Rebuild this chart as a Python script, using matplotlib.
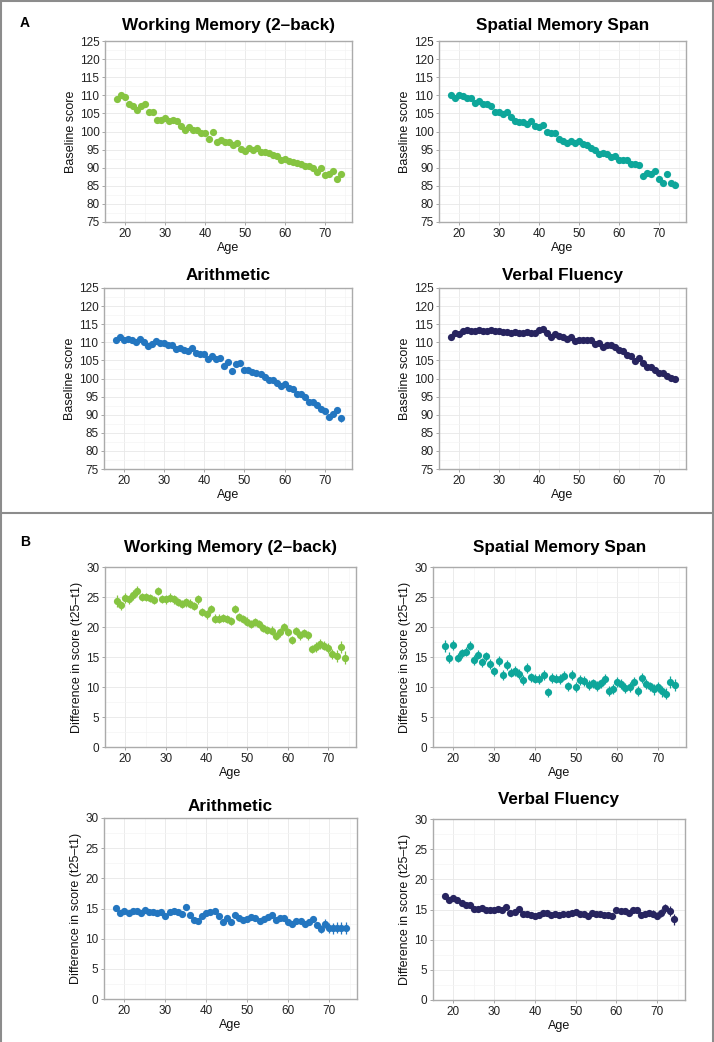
import matplotlib
matplotlib.use("Agg")
import matplotlib.pyplot as plt
from matplotlib.lines import Line2D

plt.rcParams['font.family'] = ['Liberation Sans', 'DejaVu Sans']

ages = list(range(18, 75))

# ---- Panel A: baseline scores ----
wm_base = [109.1, 110.0, 109.5, 107.5, 107.0, 106.0, 107.0, 107.5, 105.3, 105.5,
           103.3, 103.2, 103.7, 103.0, 103.2, 102.8, 101.5, 100.3, 101.3, 100.5,
           100.3, 99.5, 99.5, 97.8, 99.8, 97.0, 97.7, 97.0, 97.0, 96.2,
           96.8, 95.3, 94.7, 95.5, 95.0, 95.4, 94.2, 94.2, 94.0, 93.5,
           93.3, 92.2, 92.3, 91.8, 91.6, 91.3, 91.0, 90.5, 90.5, 90.0,
           88.7, 89.8, 88.0, 88.3, 89.0, 86.8, 88.2]
wm_base_err = [0.7, 0.6, 0.5, 0.5, 0.5, 0.5, 0.5, 0.5, 0.5, 0.5,
               0.5, 0.5, 0.5, 0.5, 0.5, 0.5, 0.5, 0.5, 0.5, 0.5,
               0.5, 0.5, 0.5, 0.5, 0.5, 0.5, 0.5, 0.5, 0.5, 0.5,
               0.5, 0.5, 0.5, 0.5, 0.5, 0.5, 0.5, 0.5, 0.5, 0.5,
               0.5, 0.5, 0.5, 0.5, 0.5, 0.5, 0.5, 0.5, 0.5, 0.6,
               0.6, 0.6, 0.7, 0.7, 0.7, 0.8, 0.9]

sp_base = [110.0, 109.3, 110.0, 109.7, 109.2, 109.3, 107.8, 108.5, 107.5, 107.5,
           107.0, 105.5, 105.4, 104.8, 105.3, 104.0, 103.0, 102.7, 102.5, 102.0,
           103.0, 101.5, 101.2, 101.8, 99.8, 99.7, 99.7, 97.8, 97.5, 96.8,
           97.5, 96.9, 97.3, 96.5, 96.2, 95.5, 95.0, 93.7, 94.0, 93.8,
           93.0, 93.2, 92.0, 92.0, 92.0, 91.0, 91.0, 90.8, 87.8, 88.5,
           88.3, 89.0, 87.0, 85.8, 88.2, 85.8, 85.3]
sp_base_err = [0.7, 0.6, 0.6, 0.6, 0.6, 0.6, 0.6, 0.6, 0.6, 0.6,
               0.6, 0.6, 0.6, 0.6, 0.6, 0.6, 0.6, 0.6, 0.6, 0.6,
               0.6, 0.6, 0.6, 0.6, 0.6, 0.6, 0.6, 0.6, 0.6, 0.6,
               0.6, 0.6, 0.6, 0.6, 0.6, 0.6, 0.6, 0.6, 0.6, 0.6,
               0.6, 0.6, 0.6, 0.6, 0.6, 0.6, 0.6, 0.6, 0.7, 0.7,
               0.7, 0.7, 0.8, 0.8, 0.8, 0.9, 0.9]

ar_base = [110.5, 111.6, 110.5, 110.8, 110.5, 110.0, 110.8, 110.0, 109.0, 109.5,
           110.3, 109.7, 109.7, 109.2, 109.3, 108.2, 108.4, 108.0, 107.5, 108.5,
           107.0, 106.7, 106.7, 105.3, 106.3, 105.5, 105.8, 103.5, 104.5, 102.2,
           104.0, 104.3, 102.3, 102.4, 101.7, 101.6, 101.3, 100.3, 99.5, 99.7,
           98.8, 97.9, 98.5, 97.3, 97.2, 95.8, 95.7, 95.0, 93.5, 93.5,
           92.7, 91.7, 91.0, 89.5, 90.3, 91.2, 89.0]
ar_base_err = [0.5, 0.5, 0.4, 0.4, 0.4, 0.4, 0.4, 0.4, 0.4, 0.4,
               0.4, 0.4, 0.4, 0.4, 0.4, 0.4, 0.4, 0.4, 0.4, 0.4,
               0.4, 0.4, 0.4, 0.4, 0.4, 0.4, 0.4, 0.4, 0.4, 0.4,
               0.4, 0.4, 0.4, 0.4, 0.4, 0.4, 0.4, 0.4, 0.4, 0.4,
               0.4, 0.4, 0.4, 0.4, 0.4, 0.4, 0.4, 0.4, 0.4, 0.4,
               0.5, 0.5, 0.5, 0.6, 0.6, 0.7, 0.9]

vf_base = [111.4, 112.7, 112.2, 113.0, 113.3, 113.1, 113.0, 113.5, 113.2, 113.0,
           113.4, 113.0, 113.1, 112.9, 112.8, 112.5, 112.8, 112.6, 112.5, 112.8,
           112.7, 112.6, 113.4, 113.6, 112.7, 111.4, 112.3, 111.8, 111.6, 111.0,
           111.5, 110.4, 110.7, 110.7, 110.6, 110.6, 109.6, 109.7, 108.6, 109.2,
           109.3, 108.8, 107.8, 107.5, 106.5, 106.3, 104.7, 105.8, 104.3, 103.1,
           103.3, 102.3, 101.6, 101.4, 100.8, 100.1, 99.9]
vf_base_err = [0.4, 0.4, 0.4, 0.4, 0.4, 0.4, 0.4, 0.4, 0.4, 0.4,
               0.4, 0.4, 0.4, 0.4, 0.4, 0.4, 0.4, 0.4, 0.4, 0.4,
               0.4, 0.4, 0.4, 0.4, 0.4, 0.4, 0.4, 0.4, 0.4, 0.4,
               0.4, 0.4, 0.4, 0.4, 0.4, 0.4, 0.4, 0.4, 0.4, 0.4,
               0.4, 0.4, 0.4, 0.4, 0.4, 0.4, 0.4, 0.4, 0.4, 0.5,
               0.5, 0.5, 0.5, 0.6, 0.6, 0.7, 0.8]

# ---- Panel B: difference in score (t25 - t1) ----
wm_diff = [24.4, 23.6, 24.8, 24.6, 25.3, 26.0, 25.0, 25.0, 24.8, 24.5,
           26.0, 24.7, 24.6, 24.9, 24.6, 24.2, 23.8, 24.1, 23.9, 23.5,
           24.6, 22.5, 22.1, 23.0, 21.4, 21.4, 21.5, 21.3, 21.0, 23.0,
           21.7, 21.3, 20.9, 20.5, 20.8, 20.5, 19.8, 19.5, 19.4, 18.5,
           19.1, 20.0, 19.2, 17.8, 19.3, 18.6, 19.0, 18.6, 16.3, 16.7,
           17.2, 16.9, 16.5, 15.5, 15.1, 16.6, 14.9]
wm_diff_err = [1.0, 0.8, 0.8, 0.8, 0.8, 0.8, 0.7, 0.7, 0.7, 0.7,
               0.7, 0.7, 0.7, 0.7, 0.7, 0.7, 0.7, 0.7, 0.7, 0.7,
               0.7, 0.7, 0.7, 0.7, 0.7, 0.7, 0.7, 0.7, 0.7, 0.7,
               0.7, 0.7, 0.7, 0.7, 0.7, 0.7, 0.7, 0.7, 0.7, 0.7,
               0.7, 0.7, 0.7, 0.7, 0.7, 0.7, 0.7, 0.7, 0.7, 0.8,
               0.8, 0.8, 0.9, 0.9, 1.0, 1.0, 1.1]

sp_diff = [16.8, 14.9, 17.0, 14.9, 15.6, 15.9, 16.9, 14.5, 15.4, 14.1,
           15.1, 13.8, 12.6, 14.3, 12.0, 13.7, 12.4, 12.7, 12.2, 11.2,
           13.2, 11.6, 11.4, 11.3, 12.0, 9.1, 11.5, 11.4, 11.3, 11.9,
           10.1, 12.0, 10.0, 11.2, 11.0, 10.3, 10.6, 10.2, 10.6, 11.3,
           9.3, 9.7, 10.8, 10.5, 9.8, 10.0, 10.9, 9.3, 11.5, 10.5,
           10.1, 9.6, 10.0, 9.3, 8.9, 10.8, 10.4]
sp_diff_err = [1.0, 0.9, 0.8, 0.8, 0.8, 0.8, 0.8, 0.8, 0.8, 0.8,
               0.8, 0.8, 0.8, 0.8, 0.8, 0.8, 0.8, 0.8, 0.8, 0.8,
               0.8, 0.8, 0.8, 0.8, 0.8, 0.8, 0.8, 0.8, 0.8, 0.8,
               0.8, 0.8, 0.8, 0.8, 0.8, 0.8, 0.8, 0.8, 0.8, 0.8,
               0.8, 0.8, 0.8, 0.8, 0.8, 0.8, 0.8, 0.8, 0.8, 0.8,
               0.8, 0.9, 0.9, 0.9, 0.9, 1.0, 1.0]

ar_diff = [15.1, 14.3, 14.6, 14.3, 14.6, 14.6, 14.2, 14.7, 14.5, 14.5,
           14.3, 14.4, 13.7, 14.5, 14.6, 14.4, 14.1, 15.2, 13.9, 13.1,
           13.0, 13.8, 14.3, 14.5, 14.6, 13.7, 12.8, 13.5, 12.8, 14.0,
           13.5, 13.1, 13.3, 13.6, 13.4, 13.0, 13.3, 13.6, 13.9, 13.1,
           13.4, 13.5, 12.8, 12.4, 13.0, 13.0, 12.4, 12.8, 13.2, 12.2,
           11.6, 12.5, 11.8, 11.7, 11.8, 11.7, 11.8]
ar_diff_err = [0.5, 0.4, 0.4, 0.4, 0.4, 0.4, 0.4, 0.4, 0.4, 0.4,
               0.4, 0.4, 0.4, 0.4, 0.4, 0.4, 0.4, 0.4, 0.4, 0.4,
               0.4, 0.4, 0.4, 0.4, 0.4, 0.4, 0.4, 0.4, 0.4, 0.4,
               0.4, 0.4, 0.4, 0.4, 0.4, 0.4, 0.4, 0.4, 0.4, 0.4,
               0.4, 0.4, 0.4, 0.4, 0.4, 0.4, 0.4, 0.4, 0.5, 0.5,
               0.6, 0.8, 0.8, 0.9, 0.9, 1.0, 1.0]

vf_diff = [17.2, 16.6, 16.9, 16.5, 16.1, 15.8, 15.7, 15.1, 15.1, 15.2,
           14.9, 14.9, 15.0, 15.1, 14.9, 15.4, 14.5, 14.6, 15.1, 14.2,
           14.2, 14.1, 13.9, 14.1, 14.4, 14.4, 14.1, 14.3, 14.1, 14.3,
           14.3, 14.4, 14.6, 14.3, 14.3, 13.9, 14.4, 14.3, 14.2, 14.1,
           14.1, 14.0, 14.9, 14.8, 14.7, 14.5, 15.0, 14.9, 14.1, 14.2,
           14.5, 14.3, 14.0, 14.4, 15.2, 14.7, 13.4]
vf_diff_err = [0.4, 0.4, 0.4, 0.4, 0.4, 0.4, 0.4, 0.4, 0.4, 0.4,
               0.4, 0.4, 0.4, 0.4, 0.4, 0.4, 0.4, 0.4, 0.4, 0.4,
               0.4, 0.4, 0.4, 0.4, 0.4, 0.4, 0.4, 0.4, 0.4, 0.4,
               0.4, 0.4, 0.4, 0.4, 0.4, 0.4, 0.4, 0.4, 0.4, 0.4,
               0.4, 0.4, 0.4, 0.4, 0.4, 0.4, 0.4, 0.4, 0.5, 0.5,
               0.5, 0.6, 0.6, 0.7, 0.7, 0.8, 0.9]

titles = ["Working Memory (2\u2013back)", "Spatial Memory Span", "Arithmetic", "Verbal Fluency"]
colors = ["#86C441", "#0DA69A", "#2376C0", "#27245F"]
x_ticks = [20, 30, 40, 50, 60, 70]
a_yticks = [75, 80, 85, 90, 95, 100, 105, 110, 115, 120, 125]
b_yticks = [0, 5, 10, 15, 20, 25, 30]

W, H = 714, 1042
fig = plt.figure(figsize=(W / 100, H / 100), dpi=100)
fig.patch.set_facecolor("white")


def add_ax(left, top, right, bottom):
    return fig.add_axes([left / W, 1 - bottom / H, (right - left) / W, (bottom - top) / H])


def style(ax, ylim, yticks, ylabel, title, tpad):
    ax.set_xlim(15.2, 76.8)
    ax.set_ylim(*ylim)
    ax.set_xticks(x_ticks)
    ax.set_yticks(yticks)
    ax.set_xticks([15, 25, 35, 45, 55, 65, 75], minor=True)
    step = yticks[1] - yticks[0]
    ax.set_yticks([v + step / 2 for v in yticks[:-1]], minor=True)
    ax.grid(True, which="major", color="#E8E8E8", lw=0.6)
    ax.grid(True, which="minor", color="#F4F4F4", lw=0.5)
    ax.set_axisbelow(True)
    for s in ax.spines.values():
        s.set_color("#ABABAB")
        s.set_linewidth(1.0)
    ax.tick_params(which="major", length=2.5, width=0.6, color="#999999",
                   labelsize=8.5, labelcolor="#222222", pad=1.5)
    ax.tick_params(which="minor", length=0)
    ax.set_xlabel("Age", fontsize=9, color="#111111", labelpad=1.5)
    ax.set_ylabel(ylabel, fontsize=9, color="#111111", labelpad=2)
    ax.set_title(title, fontsize=12.3, fontweight="bold", pad=tpad)


def draw(ax, vals, errs, color):
    ax.errorbar(ages, vals, yerr=errs, fmt="o", color=color, ms=5.2, mew=0,
                elinewidth=0.9, capsize=0, zorder=3)


# axes boxes (left, top, right, bottom in pixels)
posA = [(105, 41, 352, 222), (439, 41, 686, 222), (104, 288, 352, 469), (439, 288, 686, 469)]
posB = [(105, 567, 356, 747), (433, 567, 686, 747), (104, 818, 357, 999), (433, 819, 685, 1000)]

baseA = [(wm_base, wm_base_err), (sp_base, sp_base_err), (ar_base, ar_base_err), (vf_base, vf_base_err)]
diffB = [(wm_diff, wm_diff_err), (sp_diff, sp_diff_err), (ar_diff, ar_diff_err), (vf_diff, vf_diff_err)]
padsA = [8, 8, 6, 6]
padsB = [11, 11, 5, 11]

for i in range(4):
    ax = add_ax(*posA[i])
    draw(ax, baseA[i][0], baseA[i][1], colors[i])
    style(ax, (75, 125), a_yticks, "Baseline score", titles[i], padsA[i])

for i in range(4):
    ax = add_ax(*posB[i])
    draw(ax, diffB[i][0], diffB[i][1], colors[i])
    style(ax, (0, 30), b_yticks, "Difference in score (t25\u2013t1)", titles[i], padsB[i])

# panel letters
fig.text(20 / W, 1 - 23 / H, "A", fontsize=10, fontweight="bold", va="center", ha="left")
fig.text(20 / W, 1 - 542 / H, "B", fontsize=10, fontweight="bold", va="center", ha="left")

# borders
bc = "#8C8C8C"
fig.add_artist(Line2D([0.5 / W, 0.5 / W], [0, 1], color=bc, lw=1.5, transform=fig.transFigure))
fig.add_artist(Line2D([1 - 1.0 / W, 1 - 1.0 / W], [0, 1], color=bc, lw=1.5, transform=fig.transFigure))
fig.add_artist(Line2D([0, 1], [1 - 1.0 / H, 1 - 1.0 / H], color=bc, lw=1.5, transform=fig.transFigure))
fig.add_artist(Line2D([0, 1], [1 - 513 / H, 1 - 513 / H], color=bc, lw=1.5, transform=fig.transFigure))

fig.savefig("out.png", dpi=100, facecolor="white")
